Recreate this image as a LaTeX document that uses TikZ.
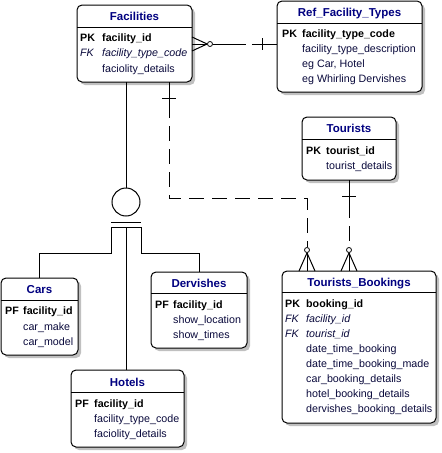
\documentclass[tikz,border=0pt]{standalone}
\usepackage{fontspec}
\setmainfont{Liberation Sans}
\usetikzlibrary{shadows,calc}
\definecolor{ttlc}{RGB}{0,0,128}
\definecolor{fldc}{RGB}{10,10,60}
\definecolor{shd}{RGB}{192,192,192}
\tikzset{
 entity/.style={draw, line width=1pt, rounded corners=5pt, fill=white, inner sep=0pt, outer sep=0pt,
   drop shadow={shadow xshift=3pt, shadow yshift=-3pt, fill=shd, opacity=1}},
 ttl/.style={font=\fontsize{11.5}{13}\selectfont\bfseries, text=ttlc, anchor=base, inner sep=0pt},
 key/.style={font=\fontsize{10.7}{12}\selectfont\bfseries, text=black, anchor=base west, inner sep=0pt},
 fkey/.style={font=\fontsize{10.7}{12}\selectfont\itshape, text=fldc, anchor=base west, inner sep=0pt},
 fld/.style={font=\fontsize{10.7}{12}\selectfont, text=fldc, anchor=base west, inner sep=0pt},
 opt/.style={draw, circle, minimum size=5pt, inner sep=0pt, line width=0.8pt},
 link/.style={line width=1pt},
 nonid/.style={line width=1pt, dash pattern=on 15pt off 8pt},
}
\begin{document}
\begin{tikzpicture}[x=1pt,y=-1pt]
\useasboundingbox (0,0) rectangle (442,453);

% ---------- entities ----------
\node[entity, minimum width=115pt, minimum height=77pt] (fac) at (134.5,43.5) {};
\node[entity, minimum width=145pt, minimum height=91pt] (ref) at (349.5,46.5) {};
\node[entity, minimum width=94pt, minimum height=63pt] (tour) at (349,148.5) {};
\node[entity, minimum width=154pt, minimum height=152pt] (tb) at (359,347) {};
\node[entity, minimum width=77pt, minimum height=77pt] (cars) at (39.5,316.5) {};
\node[entity, minimum width=96pt, minimum height=76pt] (derv) at (199,310) {};
\node[entity, minimum width=113pt, minimum height=77pt] (hot) at (127.5,408.5) {};

% header separators
\draw[link] (fac.west |- 0,27) -- (fac.east |- 0,27);
\draw[link] (ref.west |- 0,23) -- (ref.east |- 0,23);
\draw[link] (tour.west |- 0,139) -- (tour.east |- 0,139);
\draw[link] (tb.west |- 0,292) -- (tb.east |- 0,292);
\draw[link] (cars.west |- 0,300) -- (cars.east |- 0,300);
\draw[link] (derv.west |- 0,293) -- (derv.east |- 0,293);
\draw[link] (hot.west |- 0,392) -- (hot.east |- 0,392);

% ---------- texts ----------
\node[ttl] (facT) at (134.5,20.5) {Facilities};
\node[key] (facL1) at (80,41) {PK};
\node[key] (facN1) at (102,41) {facility\_id};
\node[fkey] (facL2) at (80,56) {FK};
\node[fkey] (facN2) at (102,56) {facility\_type\_code};
\node[fld] (facN3) at (102,72) {faciolity\_details};

\node[ttl] (refT) at (349.5,16.5) {Ref\_Facility\_Types};
\node[key] (refL1) at (282,37) {PK};
\node[key] (refN1) at (302,37) {facility\_type\_code};
\node[fld] (refN2) at (302,52) {facility\_type\_description};
\node[fld] (refN3) at (302,67) {eg Car, Hotel};
\node[fld] (refN4) at (302,82) {eg Whirling Dervishes};

\node[ttl] (tourT) at (349,132.5) {Tourists};
\node[key] (tourL1) at (306,154) {PK};
\node[key] (tourN1) at (326,154) {tourist\_id};
\node[fld] (tourN2) at (326,169) {tourist\_details};

\node[ttl] (tbT) at (359,286.5) {Tourists\_Bookings};
\node[key] (tbL1) at (285,307) {PK};
\node[key] (tbN1) at (306,307) {booking\_id};
\node[fkey] (tbL2) at (285,322) {FK};
\node[fkey] (tbN2) at (306,322) {facility\_id};
\node[fkey] (tbL3) at (285,337) {FK};
\node[fkey] (tbN3) at (306,337) {tourist\_id};
\node[fld] (tbN4) at (306,352) {date\_time\_booking};
\node[fld] (tbN5) at (306,367) {date\_time\_booking\_made};
\node[fld] (tbN6) at (306,382) {car\_booking\_details};
\node[fld] (tbN7) at (306,397) {hotel\_booking\_details};
\node[fld] (tbN8) at (306,412) {dervishes\_booking\_details};

\node[ttl] (carsT) at (39.5,293.5) {Cars};
\node[key] (carsL1) at (5,314) {PF};
\node[key] (carsN1) at (23,314) {facility\_id};
\node[fld] (carsN2) at (23,330) {car\_make};
\node[fld] (carsN3) at (23,345) {car\_model};

\node[ttl] (dervT) at (199,287.5) {Dervishes};
\node[key] (dervL1) at (155,308) {PF};
\node[key] (dervN1) at (173,308) {facility\_id};
\node[fld] (dervN2) at (173,323) {show\_location};
\node[fld] (dervN3) at (173,338) {show\_times};

\node[ttl] (hotT) at (127.5,386.5) {Hotels};
\node[key] (hotL1) at (75,407) {PF};
\node[key] (hotN1) at (94,407) {facility\_id};
\node[fld] (hotN2) at (94,422) {facility\_type\_code};
\node[fld] (hotN3) at (94,437) {faciolity\_details};

% ---------- Facilities -- Ref_Facility_Types ----------
\node[opt] (o1) at (210,44) {};
\draw[link] (fac.east |- 0,37) -- (o1.west);
\draw[link] (fac.east |- 0,51) -- (o1.west);
\draw[link] (fac.east |- o1) -- (o1.west);
\draw[link, dash pattern=on 33pt off 6pt on 40pt] (o1.east) -- (ref.west |- o1);
\draw[link] (262,38) -- (262,50);

% ---------- subtype cluster ----------
\node[draw, circle, line width=1pt, minimum size=28pt, inner sep=0pt] (sub) at (126,202) {};
\draw[link] (fac.south -| sub) -- (sub.north);
\coordinate (dl) at (111,222);
\coordinate (dr) at (141,222);
\coordinate (el) at (111,227);
\coordinate (er) at (141,227);
\draw[link] (dl) -- (dr);
\draw[link] (el) -- (er);
\draw[link] (sub |- el) -- (hot.north -| sub);
\draw[link] (el) -- (111,253) -| (cars.north);
\draw[link] (er) -- (141,253) -| (derv.north);

% ---------- Facilities -- Tourists_Bookings ----------
\node[opt] (o2) at (307,250) {};
\coordinate (f1) at (169,103);
\coordinate (f2) at (169,198);
\draw[link] (fac.south -| f1) -- (f1);
\draw[link] (162,98) -- (176,98);
\draw[nonid] (f1) -- (f2) -| (o2.north);
\draw[link] (o2.south) -- (tb.north -| o2);
\draw[link] (o2.south) -- (tb.north -| 299,0);
\draw[link] (o2.south) -- (tb.north -| 315,0);

% ---------- Tourists -- Tourists_Bookings ----------
\node[opt] (o3) at (349,250) {};
\coordinate (t1) at (349,203);
\draw[link] (tour.south -| t1) -- (t1);
\draw[link] (342,196) -- (356,196);
\draw[nonid] (t1) -- (o3.north);
\draw[link] (o3.south) -- (tb.north -| o3);
\draw[link] (o3.south) -- (tb.north -| 341,0);
\draw[link] (o3.south) -- (tb.north -| 357,0);
\end{tikzpicture}
\end{document}
